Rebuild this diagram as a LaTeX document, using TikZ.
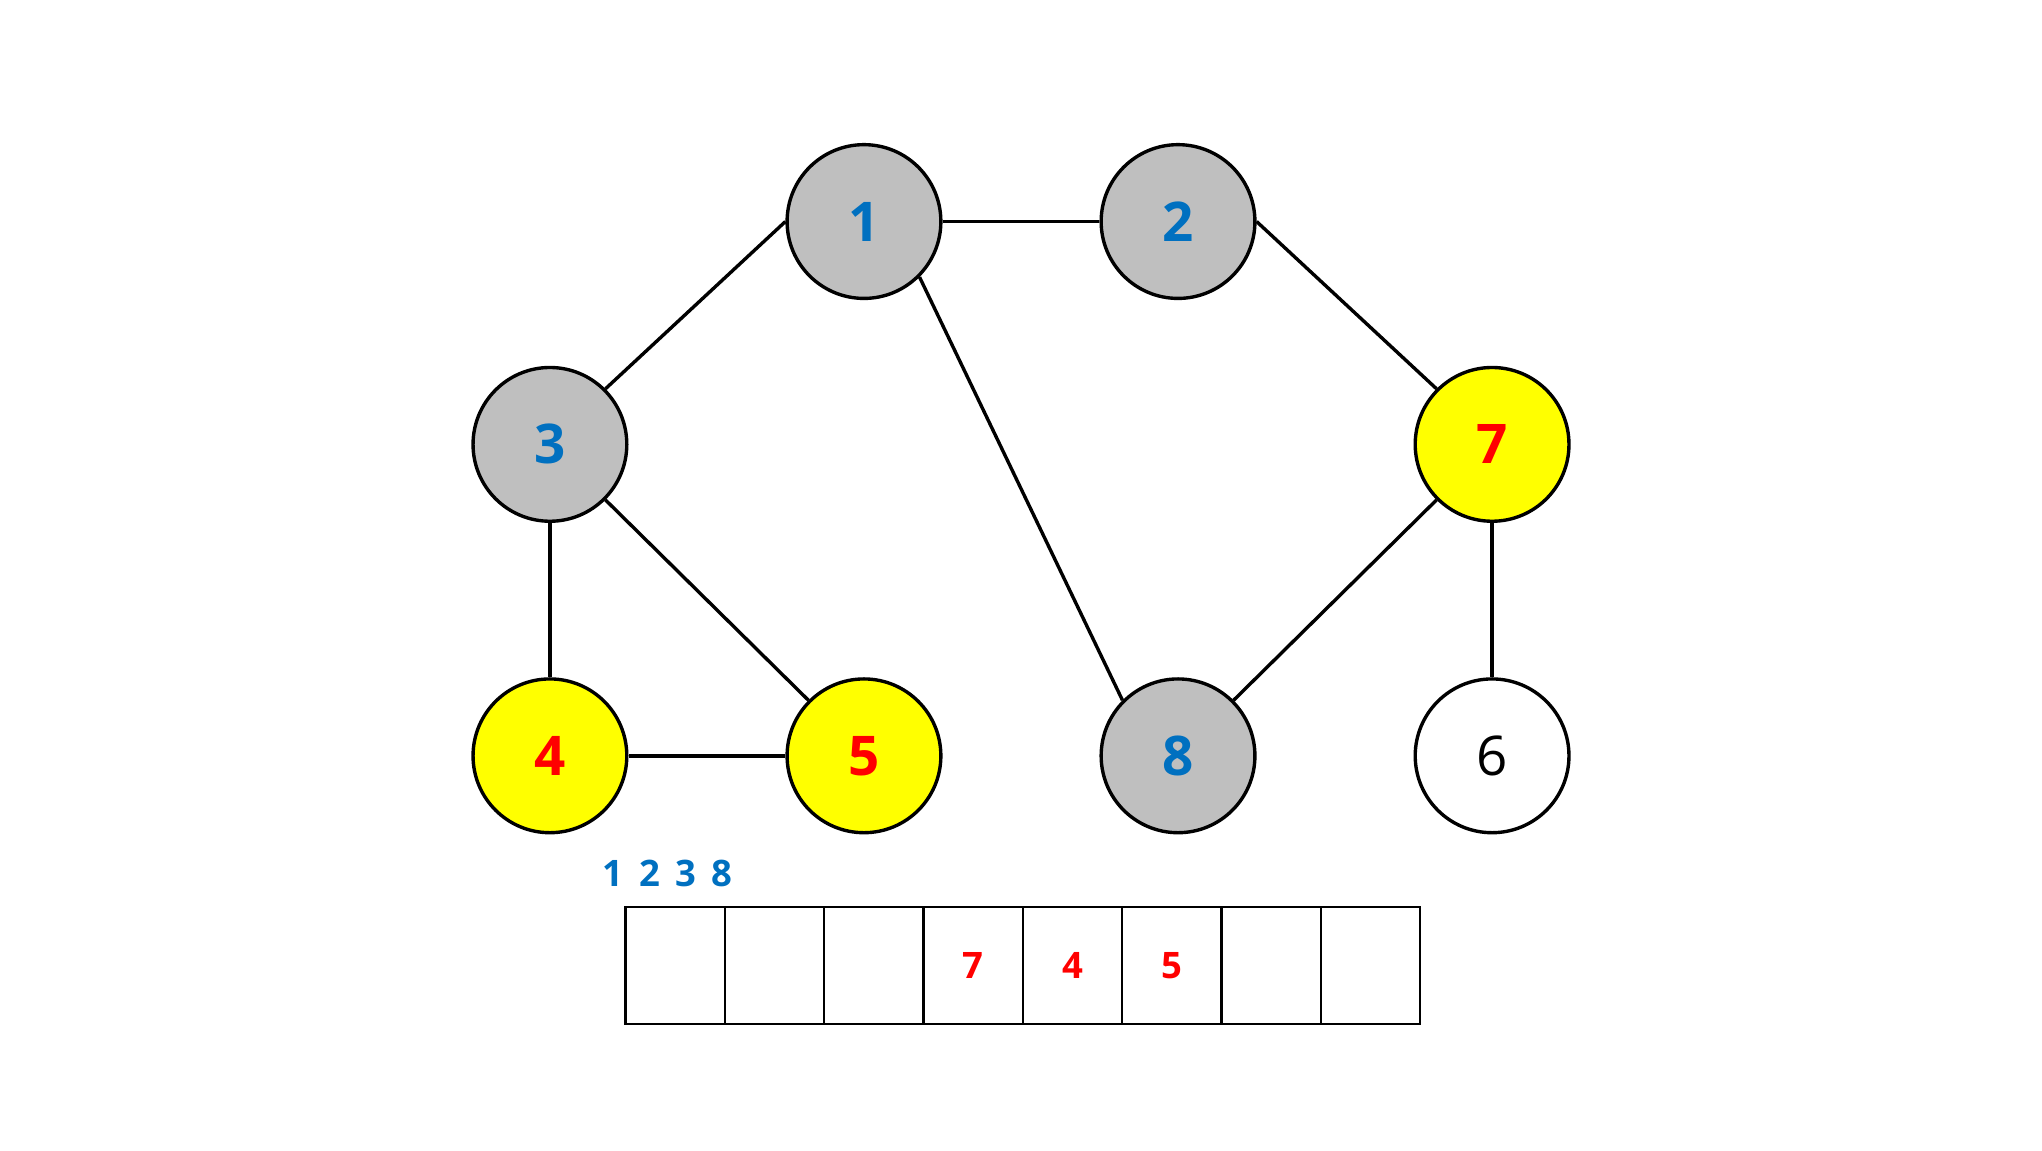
\documentclass[tikz,border=0pt]{standalone}
\usepackage{fontspec}
\setmainfont{Open Sans}
\definecolor{ngray}{HTML}{BFBFBF}
\definecolor{nblue}{HTML}{0070C0}
\definecolor{nred}{HTML}{FF0000}
\definecolor{nyellow}{HTML}{FFFF00}
\begin{document}
\begin{tikzpicture}[x=0.5pt,y=-0.5pt,
  vtx/.style={circle,draw=black,line width=1.3pt,minimum size=59pt,inner sep=0pt,font=\fontsize{21}{24}\selectfont},
  visited/.style={vtx,fill=ngray,text=nblue,font=\fontsize{21}{24}\selectfont\bfseries},
  queued/.style={vtx,fill=nyellow,text=nred,font=\fontsize{21}{24}\selectfont\bfseries},
  fresh/.style={vtx,fill=white,text=black},
  edge/.style={line width=1.3pt,draw=black},
  cell/.style={draw=black,line width=0.9pt,minimum width=38.1pt,minimum height=45pt,inner sep=0pt,anchor=north west,text=nred,font=\fontsize{14}{16}\selectfont\bfseries},
  lbl/.style={text=nblue,font=\fontsize{14}{16}\selectfont\bfseries}]
\useasboundingbox[fill=white] (0,0) rectangle (1567,883);
\node[visited] (n1) at (663,170) {1};
\node[visited] (n2) at (904,170) {2};
\node[visited] (n3) at (422,341) {3};
\node[queued]  (n7) at (1145,341) {7};
\node[queued]  (n4) at (422,580) {4};
\node[queued]  (n5) at (663,580) {5};
\node[visited] (n8) at (904,580) {8};
\node[fresh]   (n6) at (1145,580) {6};
\draw[edge] (n1.east) -- (n2.west);
\draw[edge] (n1.west) -- (n3.north east);
\draw[edge] (n1.south east) -- (n8.north west);
\draw[edge] (n2.east) -- (n7.north west);
\draw[edge] (n3.south) -- (n4.north);
\draw[edge] (n3.south east) -- (n5.north west);
\draw[edge] (n4.east) -- (n5.west);
\draw[edge] (n7.south west) -- (n8.north east);
\draw[edge] (n7.south) -- (n6.north);
\node[cell] (c1) at (479,695) {};
\node[cell] (c2) at (555.25,695) {};
\node[cell] (c3) at (631.5,695) {};
\node[cell] (c4) at (707.75,695) {7};
\node[cell] (c5) at (784,695) {4};
\node[cell] (c6) at (860.25,695) {5};
\node[cell] (c7) at (936.5,695) {};
\node[cell] (c8) at (1012.75,695) {};
\node[lbl,anchor=west,inner sep=0pt] (q) at (462,670) {1\hspace{6pt}2\hspace{6pt}3\hspace{6pt}8};
\end{tikzpicture}
\end{document}
